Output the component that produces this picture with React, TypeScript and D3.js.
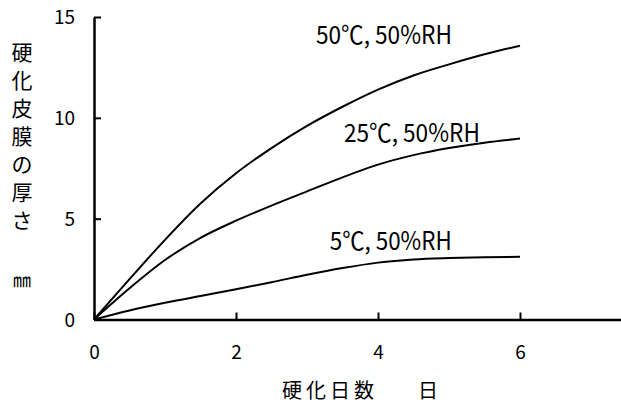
import { useEffect, useRef } from 'react';
import * as d3 from 'd3';

// days of curing
const days = [0, 0.5, 1, 1.5, 2, 2.5, 3, 3.5, 4, 4.5, 5, 5.5, 6];
// hardened skin thickness, mm
const thick50C = [0, 2.0, 3.95, 5.75, 7.25, 8.5, 9.6, 10.55, 11.4, 12.1, 12.65, 13.15, 13.58];
const thick25C = [0, 1.55, 2.95, 4.05, 4.9, 5.65, 6.35, 7.05, 7.68, 8.15, 8.5, 8.77, 8.97];
const thick5C = [0, 0.45, 0.83, 1.17, 1.5, 1.85, 2.22, 2.55, 2.82, 2.98, 3.05, 3.09, 3.11];
const seriesNames = ['50℃, 50%RH', '25℃, 50%RH', '5℃, 50%RH'];
const xTicks = [0, 2, 4, 6];
const yTicks = [0, 5, 10, 15];
const yTitle = ['硬', '化', '皮', '膜', 'の', '厚', 'さ'];

const FONT = '"Noto Sans CJK JP", "Noto Sans", sans-serif';

function App() {
    const ref = useRef<SVGSVGElement>(null);

    useEffect(() => {
        const svg = d3.select(ref.current);
        svg.selectAll('*').remove();

        const x = d3.scaleLinear().domain([0, 7.5]).range([94, 626.5]);
        const y = d3.scaleLinear().domain([0, 15]).range([319.5, 17]);

        const series = [thick50C, thick25C, thick5C];
        const line = d3
            .line<number>()
            .x((_, i) => x(days[i]))
            .y((d) => y(d))
            .curve(d3.curveMonotoneX);

        svg.selectAll('.curve')
            .data(series)
            .enter()
            .append('path')
            .attr('class', 'curve')
            .attr('d', (d) => line(d))
            .attr('fill', 'none')
            .attr('stroke', '#000')
            .attr('stroke-width', 2);

        // axes
        const xAxis = svg.append('g')
            .attr('transform', `translate(0,${y(0)})`)
            .call(d3.axisBottom(x).tickValues(xTicks).tickSizeInner(-7).tickSizeOuter(0).tickPadding(26));
        const yAxis = svg.append('g')
            .attr('transform', `translate(${x(0)},0)`)
            .call(d3.axisLeft(y).tickValues(yTicks).tickSizeInner(-7).tickSizeOuter(0).tickPadding(19));

        [xAxis, yAxis].forEach((g) => {
            g.select('.domain').attr('stroke-width', 2.5);
            g.selectAll('.tick line').attr('stroke-width', 2);
            g.selectAll('.tick text')
                .attr('font-family', FONT)
                .attr('font-size', 19)
                .attr('fill', '#000');
        });
        yAxis.selectAll('.tick text').attr('dy', '0.36em');

        // series labels
        const labelPos = [
            { x: 3.125, y: 13.64, w: 136 },
            { x: 3.52, y: 8.78, w: 136 },
            { x: 3.32, y: 3.45, w: 122 },
        ];
        svg.selectAll('.label')
            .data(seriesNames)
            .enter()
            .append('text')
            .attr('class', 'label')
            .attr('x', (_, i) => x(labelPos[i].x))
            .attr('y', (_, i) => y(labelPos[i].y))
            .attr('textLength', (_, i) => labelPos[i].w)
            .attr('lengthAdjust', 'spacingAndGlyphs')
            .attr('font-family', FONT)
            .attr('font-size', 25)
            .text((d) => d);

        // x title
        svg.append('text')
            .attr('x', 282)
            .attr('y', 398)
            .attr('font-family', FONT)
            .attr('font-size', 20)
            .attr('letter-spacing', 4)
            .text('硬化日数');
        svg.append('text')
            .attr('x', 418)
            .attr('y', 398)
            .attr('font-family', FONT)
            .attr('font-size', 20)
            .text('日');

        // y title, vertical
        svg.selectAll('.ytitle')
            .data(yTitle)
            .enter()
            .append('text')
            .attr('class', 'ytitle')
            .attr('x', 22)
            .attr('y', (_, i) => 60 + i * 28)
            .attr('text-anchor', 'middle')
            .attr('font-family', FONT)
            .attr('font-size', 21)
            .text((d) => d);
        svg.append('text')
            .attr('x', 22)
            .attr('y', 287)
            .attr('text-anchor', 'middle')
            .attr('font-family', FONT)
            .attr('font-size', 18)
            .text('㎜');
    }, []);

    return (
        <svg
            ref={ref}
            width={621}
            height={403}
            style={{ position: 'absolute', left: 0, top: 0, background: '#fff' }}
        ></svg>
    );
}

export default App;
